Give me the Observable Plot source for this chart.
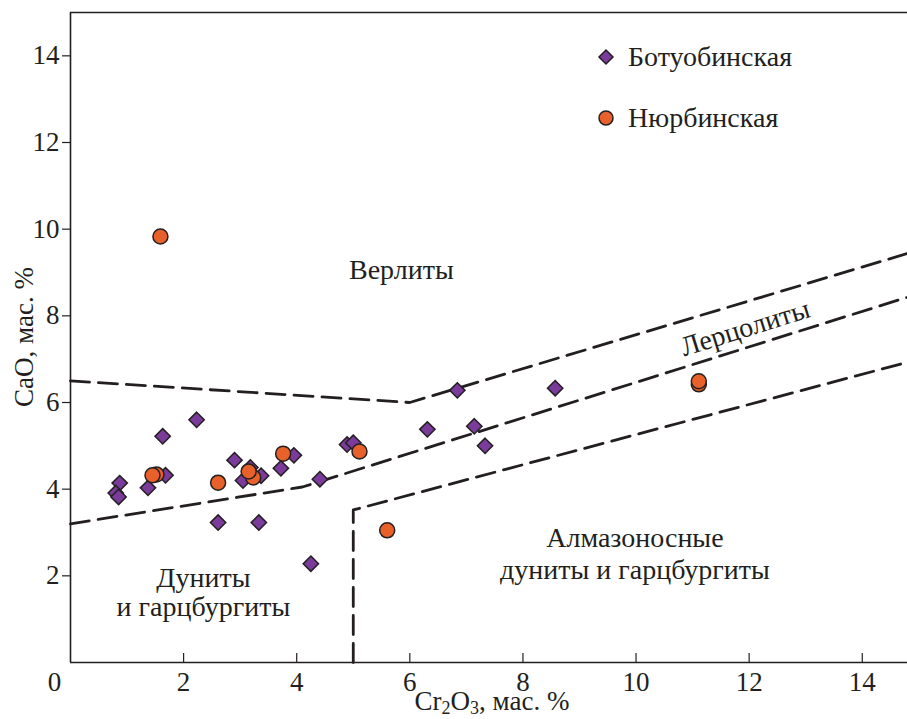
<!DOCTYPE html>
<html>
<head>
<meta charset="utf-8">
<script src="https://cdn.jsdelivr.net/npm/d3@7"></script>
<script src="https://cdn.jsdelivr.net/npm/@observablehq/plot@0.6"></script>
<style>
  html, body { margin: 0; padding: 0; background: #fff; }
  #chart { width: 907px; height: 719px; }
  #chart svg text { font-family: "Liberation Serif", "DejaVu Serif", serif; }
</style>
</head>
<body>
<div id="chart"></div>
<script>
// ---- Data ----
const seriesNames = ["Ботуобинская", "Нюрбинская"];

const botuobinskayaCr2O3 = [0.87, 0.80, 0.85, 1.37, 1.63, 1.68, 2.23, 2.61, 2.90, 3.05,
                            3.18, 3.33, 3.37, 3.72, 3.95, 4.25, 4.41, 4.89, 5.00, 6.31,
                            6.84, 7.14, 7.33, 8.57];
const botuobinskayaCaO   = [4.14, 3.91, 3.82, 4.03, 5.22, 4.32, 5.60, 3.23, 4.67, 4.20,
                            4.50, 3.23, 4.31, 4.48, 4.78, 2.28, 4.23, 5.03, 5.07, 5.38,
                            6.28, 5.45, 5.00, 6.33];

const nyurbinskayaCr2O3 = [1.59, 1.52, 1.45, 2.61, 3.23, 3.15, 3.76, 5.11, 5.60, 11.11, 11.11];
const nyurbinskayaCaO   = [9.83, 4.34, 4.32, 4.15, 4.27, 4.41, 4.82, 4.87, 3.05, 6.42, 6.49];

// Classification boundaries (vertices, Cr2O3 / CaO)
const wehrliteBoundary   = [[0, 6.5], [6.0, 6.0], [14.8, 9.44]];
const lherzoliteBoundary = [[0, 3.2], [4.1, 4.05], [14.8, 8.43]];
const diamondBoundary    = [[5.0, 0], [5.0, 3.52], [14.8, 6.93]];

const xTicks = [0, 2, 4, 6, 8, 10, 12, 14];
const yTicks = [2, 4, 6, 8, 10, 12, 14];

// Field names (annotation anchors in data units)
const fieldLabels = [
  {text: "Верлиты", x: 5.85, y: 9.05, rotate: 0},
  {text: "Лерцолиты", x: 11.93, y: 7.72, rotate: -17.4},
  {text: "Дуниты", x: 2.35, y: 1.94, rotate: 0},
  {text: "и гарцбургиты", x: 2.35, y: 1.27, rotate: 0},
  {text: "Алмазоносные", x: 9.98, y: 2.88, rotate: 0},
  {text: "дуниты и гарцбургиты", x: 9.98, y: 2.14, rotate: 0}
];

// ---- Build tables ----
const botuobinskaya = botuobinskayaCr2O3.map((x, i) => ({x, y: botuobinskayaCaO[i]}));
const nyurbinskaya  = nyurbinskayaCr2O3.map((x, i) => ({x, y: nyurbinskayaCaO[i]}));

const INK = "#231f20";
const PURPLE = "#7a3b9a";
const ORANGE = "#e8612b";
const FONT = "Liberation Serif";
const FS = 28;
const dash = "19,9";

const plot = Plot.plot({
  width: 907,
  height: 719,
  marginLeft: 70,
  marginRight: 0,
  marginTop: 12,
  marginBottom: 57,
  style: {fontFamily: FONT, fontSize: FS + "px", color: INK, background: "#fff", overflow: "visible"},
  x: {domain: [0, 14.8], label: null},
  y: {domain: [0, 15], label: null},
  marks: [
    Plot.ruleX([0], {stroke: INK, strokeWidth: 1.6}),
    Plot.ruleY([0, 15], {stroke: INK, strokeWidth: 1.6}),
    Plot.ruleX(xTicks.filter(d => d > 0), {stroke: INK, strokeWidth: 1.2, insetTop: 641}),
    Plot.axisX(xTicks.filter(d => d > 0), {tickSize: 0, tickPadding: 9, fontSize: 27, fill: INK}),
    Plot.axisX([0], {tickSize: 0, tickPadding: 9, dx: -16, fontSize: 27, fill: INK}),
    Plot.axisY(yTicks, {tickSize: 8, tickPadding: 3, fontSize: 27, fill: INK, stroke: INK, strokeWidth: 1.2}),
    Plot.line(wehrliteBoundary, {x: d => d[0], y: d => d[1], stroke: INK, strokeWidth: 2.8, strokeDasharray: dash}),
    Plot.line(lherzoliteBoundary, {x: d => d[0], y: d => d[1], stroke: INK, strokeWidth: 2.8, strokeDasharray: dash}),
    Plot.line(diamondBoundary, {x: d => d[0], y: d => d[1], stroke: INK, strokeWidth: 2.8, strokeDasharray: dash}),
    Plot.text(fieldLabels, {x: "x", y: "y", text: "text", rotate: "rotate", fontSize: FS,
      fill: INK, textAnchor: "middle"}),
    Plot.dot(botuobinskaya, {x: "x", y: "y", symbol: "diamond2", r: 6.9, fill: PURPLE, stroke: INK, strokeWidth: 1.5}),
    Plot.dot(nyurbinskaya, {x: "x", y: "y", symbol: "circle", r: 7.5, fill: ORANGE, stroke: INK, strokeWidth: 1.5})
  ]
});

const svg = d3.select(plot);

const xt = svg.append("text")
  .attr("x", 492).attr("y", 710)
  .attr("text-anchor", "middle")
  .attr("font-size", 27).attr("fill", INK);
xt.append("tspan").text("Cr");
xt.append("tspan").attr("font-size", 18).attr("dy", 4).text("2");
xt.append("tspan").attr("dy", -4).text("O");
xt.append("tspan").attr("font-size", 18).attr("dy", 4).text("3");
xt.append("tspan").attr("dy", -4).text(", мас. %");

svg.append("text")
  .attr("transform", "translate(33,337) rotate(-90)")
  .attr("text-anchor", "middle")
  .attr("font-size", 27).attr("fill", INK)
  .text("CaO, мас. %");

const legend = svg.append("g").attr("font-size", FS).attr("fill", INK).attr("text-anchor", "start");
const items = [
  {name: seriesNames[0], sym: d3.symbolDiamond2, size: Math.PI * 6.3 * 6.3, fill: PURPLE, cy: 57},
  {name: seriesNames[1], sym: d3.symbolCircle, size: Math.PI * 7 * 7, fill: ORANGE, cy: 118}
];
items.forEach(it => {
  legend.append("path")
    .attr("d", d3.symbol(it.sym, it.size)())
    .attr("transform", `translate(606,${it.cy})`)
    .attr("fill", it.fill).attr("stroke", INK).attr("stroke-width", 1.5);
  legend.append("text")
    .attr("x", 628).attr("y", it.cy).attr("dy", "0.33em")
    .attr("text-anchor", "start")
    .text(it.name);
});

document.getElementById("chart").appendChild(plot);
</script>
</body>
</html>
